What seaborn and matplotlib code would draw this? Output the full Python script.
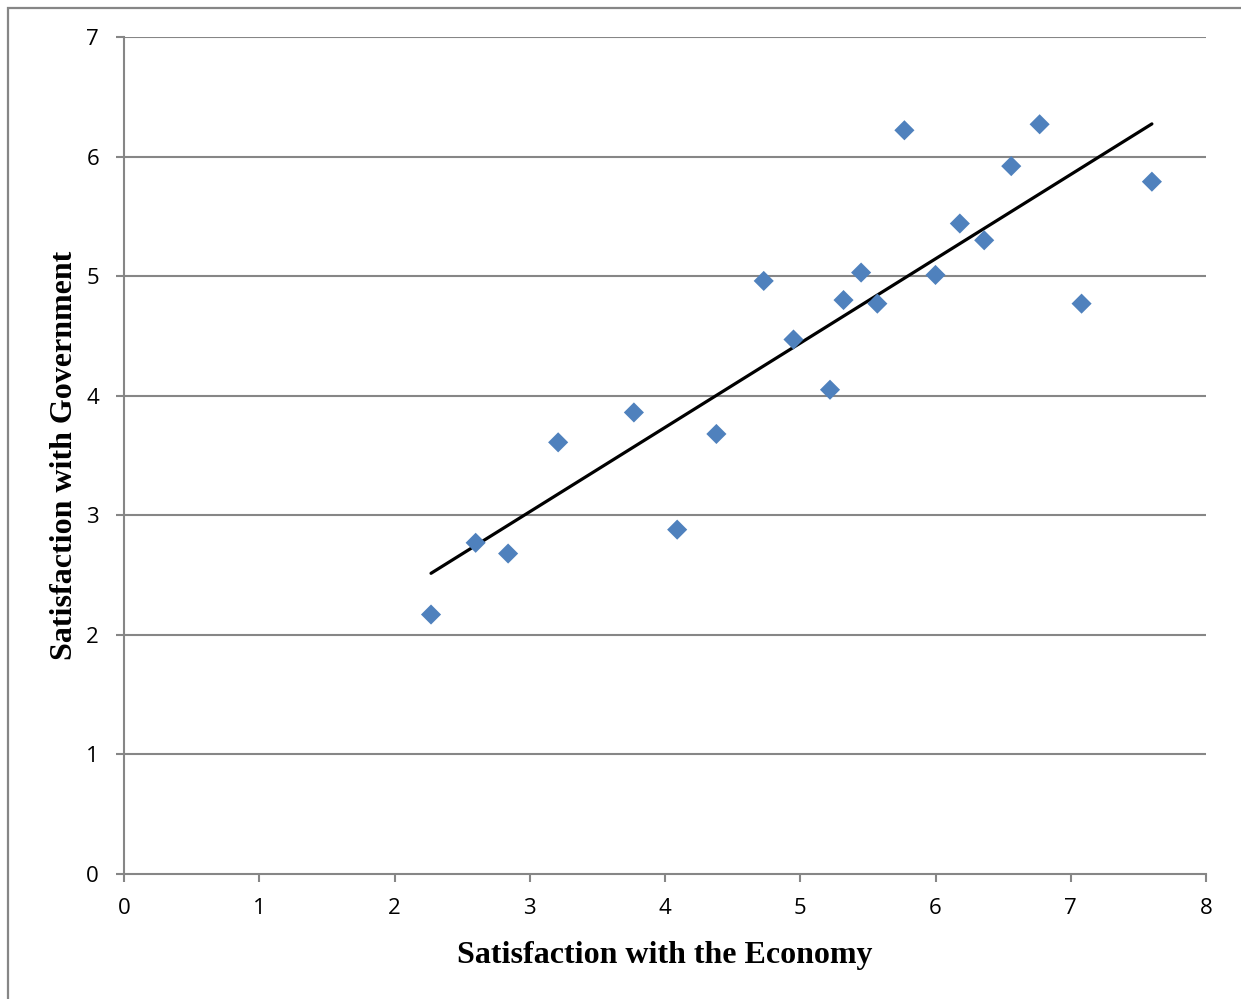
import numpy as np
import pandas as pd
import matplotlib
matplotlib.use("Agg")
import matplotlib.pyplot as plt
import seaborn as sns

# readings from the chart
economy = [2.27, 2.60, 2.84, 3.21, 3.77, 4.09, 4.38, 4.73, 4.95, 5.22, 5.32,
           5.45, 5.57, 5.77, 6.00, 6.18, 6.36, 6.56, 6.77, 7.08, 7.60]
government = [2.17, 2.77, 2.68, 3.61, 3.86, 2.88, 3.68, 4.96, 4.47, 4.05, 4.80,
              5.03, 4.77, 6.22, 5.01, 5.44, 5.30, 5.92, 6.27, 4.77, 5.79]
x_ticks = [0, 1, 2, 3, 4, 5, 6, 7, 8]
y_ticks = [0, 1, 2, 3, 4, 5, 6, 7]

df = pd.DataFrame({"economy": economy, "government": government})

sns.set_style("white")
grey = "#868686"

fig = plt.figure(figsize=(12.41, 9.99), dpi=100)
# outer chart border (Excel style)
fig.patches.append(plt.Rectangle((8 / 1241, -0.01), 1.1, (999 - 8) / 999 + 0.01,
                                 transform=fig.transFigure, fill=False,
                                 edgecolor=grey, linewidth=1.6))
ax = fig.add_axes([124 / 1241, 125 / 999, 1082 / 1241, 837 / 999])

for y in y_ticks[1:]:
    ax.axhline(y, color=grey, linewidth=1.5, zorder=0)

sns.regplot(data=df, x="economy", y="government", scatter=False, ci=None,
            color="black", line_kws={"linewidth": 2.3}, ax=ax)
sns.scatterplot(data=df, x="economy", y="government", marker="D", s=105,
                color="#4F81BD", edgecolor="none", ax=ax, zorder=3)

ax.set_xlim(0, 8)
ax.set_ylim(0, 7)
ax.set_xticks(x_ticks)
ax.set_yticks(y_ticks)
ax.tick_params(axis="both", direction="out", length=6, width=1.5, color=grey,
               labelsize=16, labelcolor="black", bottom=True, left=True)
ax.tick_params(axis="x", pad=11)
ax.tick_params(axis="y", pad=12)
for lab in ax.get_xticklabels() + ax.get_yticklabels():
    lab.set_fontfamily("Open Sans")

for side in ["top", "right"]:
    ax.spines[side].set_visible(False)
for side in ["left", "bottom"]:
    ax.spines[side].set_color(grey)
    ax.spines[side].set_linewidth(1.5)

ax.set_xlabel("Satisfaction with the Economy", fontsize=23, fontweight="bold",
              family="Liberation Serif", color="black", labelpad=16)
ax.set_ylabel("Satisfaction with Government", fontsize=23, fontweight="bold",
              family="Liberation Serif", color="black", labelpad=5)

fig.savefig("out.png", dpi=100)
